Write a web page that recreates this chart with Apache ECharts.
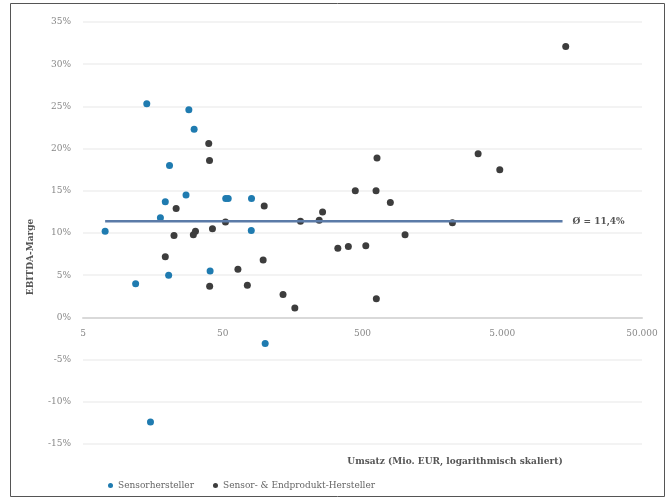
<!DOCTYPE html>
<html>
<head>
<meta charset="utf-8">
<script src="https://cdn.jsdelivr.net/npm/echarts@6/dist/echarts.min.js"></script>
<style>
 html, body { margin: 0; padding: 0; background: #fff; }
 #chart { width: 670px; height: 500px; }
</style>
</head>
<body>
<div id="chart"></div>
<script>
// Umsatz (Mio. EUR) und EBITDA-Marge (%) je Unternehmen
const sensorRevenue = [7.2, 14.3, 28.6, 31.2, 20.8, 19.4, 27.3, 52.5, 54.7, 80.3, 17.9, 80, 20.5, 40.6, 11.9, 100.6, 15.2]
const sensorMargin = [10.2, 25.3, 24.6, 22.3, 18.0, 13.7, 14.5, 14.1, 14.1, 14.1, 11.8, 10.3, 5.0, 5.5, 4.0, -3.1, -12.4]

const endRevenue = [39.7, 40.2, 23.2, 99, 52.3, 22.4, 30.8, 31.9, 42.2, 19.4, 64.2, 97.3, 40.3, 75, 135, 164,
 635, 444, 625, 791, 259, 180, 245, 2200, 1008, 333, 396, 528, 628, 3360, 4800, 14230]
const endMargin = [20.6, 18.6, 12.9, 13.2, 11.3, 9.7, 9.8, 10.2, 10.5, 7.2, 5.7, 6.8, 3.7, 3.8, 2.7, 1.1,
 18.9, 15.0, 15.0, 13.6, 12.5, 11.4, 11.5, 11.2, 9.8, 8.2, 8.4, 8.5, 2.2, 19.4, 17.5, 32.1]

const avgMargin = 11.4
const avgRange = [7.2, 13500]
const xTicks = [5, 50, 500, 5000, 50000]

const serif = 'DejaVu Serif'

const pairs = function (xs, ys) {
 return xs.map((x, i) => [x, ys[i]])
}

const gridTop = 22
const gridBottom = 56
const yMin = -15
const yMax = 35
// x-Achse liegt auf der 0%-Linie
const plotH = 500 - gridTop - gridBottom
const zeroOffset = plotH * (0 - yMin) / (yMax - yMin)

const chart = echarts.init(document.getElementById('chart'))
const option = {
 animation: false,
 backgroundColor: '#fff',
 grid: {
  left: 83,
  right: 28,
  top: gridTop,
  bottom: gridBottom
 },
 legend: {
  left: 103,
  top: 476,
  icon: 'circle',
  itemWidth: 5,
  itemHeight: 5,
  itemGap: 19,
  textStyle: { fontFamily: serif, fontSize: 9, color: '#666' },
  data: ['Sensorhersteller', 'Sensor- & Endprodukt-Hersteller']
 },
 xAxis: {
  type: 'log',
  logBase: 10,
  min: 5,
  max: 50000,
  position: 'bottom',
  offset: -zeroOffset,
  axisLine: { onZero: false, lineStyle: { color: '#d9d9d9', width: 2 } },
  axisTick: { show: false },
  splitLine: { show: false },
  axisLabel: {
   customValues: xTicks,
   margin: 12,
   fontFamily: serif,
   fontSize: 9,
   color: '#888',
   formatter: v => Math.round(v).toLocaleString('de-DE')
  }
 },
 yAxis: {
  type: 'value',
  min: yMin,
  max: yMax,
  interval: 5,
  axisLine: { show: false },
  axisTick: { show: false },
  splitLine: { lineStyle: { color: '#efefef', width: 1.5 } },
  axisLabel: {
   margin: 12,
   fontFamily: serif,
   fontSize: 9,
   color: '#888',
   formatter: '{value}%'
  }
 },
 graphic: [
  {
   type: 'rect',
   shape: { x: 10.5, y: 3.5, width: 654, height: 493 },
   style: { fill: 'none', stroke: '#555', lineWidth: 1 },
   silent: true
  },
  {
   type: 'text',
   x: 31,
   y: 257,
   rotation: Math.PI / 2,
   style: {
    text: 'EBITDA-Marge',
    fontFamily: serif,
    fontSize: 9,
    fontWeight: 'bold',
    fill: '#555',
    align: 'center',
    verticalAlign: 'middle'
   }
  },
  {
   type: 'text',
   x: 455,
   y: 462,
   style: {
    text: 'Umsatz (Mio. EUR, logarithmisch skaliert)',
    fontFamily: serif,
    fontSize: 9,
    fontWeight: 'bold',
    fill: '#555',
    align: 'center',
    verticalAlign: 'middle'
   }
  }
 ],
 series: [
  {
   name: 'avg',
   type: 'line',
   data: avgRange.map(x => [x, avgMargin]),
   symbol: 'none',
   silent: true,
   lineStyle: { color: '#5b7ba8', width: 2.5 },
   endLabel: {
    show: true,
    distance: 10,
    fontFamily: serif,
    fontSize: 9,
    fontWeight: 'bold',
    color: '#555',
    formatter: () => 'Ø = ' + avgMargin.toLocaleString('de-DE') + '%'
   }
  },
  {
   name: 'Sensorhersteller',
   type: 'scatter',
   symbolSize: 7,
   itemStyle: { color: '#1f7bb0', opacity: 1 },
   data: pairs(sensorRevenue, sensorMargin)
  },
  {
   name: 'Sensor- & Endprodukt-Hersteller',
   type: 'scatter',
   symbolSize: 7,
   itemStyle: { color: '#3d3d3d', opacity: 1 },
   data: pairs(endRevenue, endMargin)
  }
 ]
}
chart.setOption(option)
</script>
</body>
</html>
